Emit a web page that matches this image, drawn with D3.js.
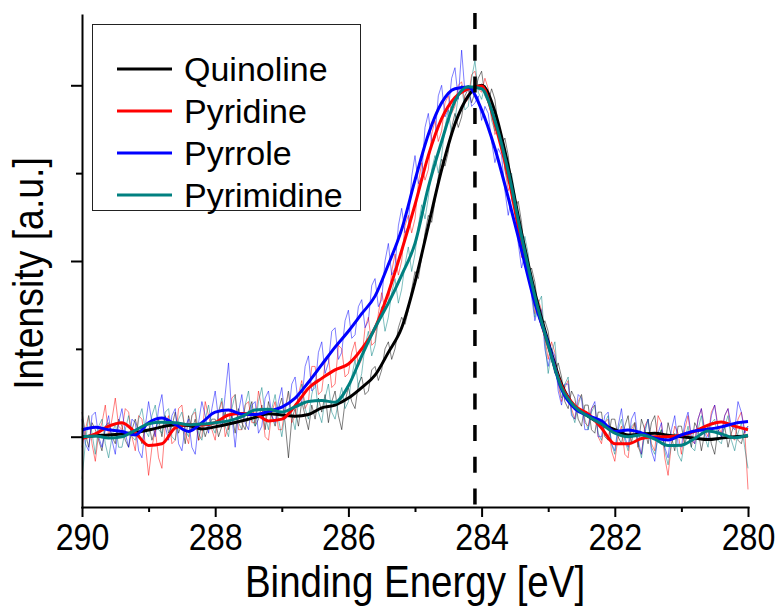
<!DOCTYPE html>
<html>
<head>
<meta charset="utf-8">
<script src="https://cdn.jsdelivr.net/npm/d3@7"></script>
<style>
  body { margin: 0; background: #fff; }
  svg { display: block; }
  text { font-family: "Liberation Sans", Arial, sans-serif; fill: #000; }
</style>
</head>
<body>
<svg id="chart" width="780" height="608"></svg>
<script>
// ---------- DATA ----------
const seriesNames = ["Quinoline", "Pyridine", "Pyrrole", "Pyrimidine"];
const seriesColors = ["#000000", "#ff0000", "#0000ff", "#008080"];

const xTickValues = [290, 288, 286, 284, 282, 280];
const xMinorTicks = [289, 287, 285, 283, 281];
const yMajorTicks = [0, 0.5, 1.0];
const yMinorTicks = [0.25, 0.75];
const referenceLine = 284.1;

// smoothed curves, 0.2 eV grid
const energySmooth = [290.0,289.8,289.6,289.4,289.2,289.0,288.8,288.6,288.4,288.2,
  288.0,287.8,287.6,287.4,287.2,287.0,286.8,286.6,286.4,286.2,
  286.0,285.8,285.6,285.4,285.2,285.0,284.8,284.6,284.4,284.2,
  284.0,283.8,283.6,283.4,283.2,283.0,282.8,282.6,282.4,282.2,
  282.0,281.8,281.6,281.4,281.2,281.0,280.8,280.6,280.4,280.2,280.0];

const quinolineSmooth = [0.0,0.003,0.005,0.008,0.012,0.019,0.028,0.033,0.032,0.022,
  0.028,0.036,0.045,0.055,0.065,0.062,0.058,0.063,0.082,0.09,
  0.11,0.14,0.175,0.24,0.31,0.44,0.60,0.76,0.89,0.97,
  1.0,0.925,0.77,0.58,0.41,0.27,0.15,0.085,0.058,0.035,
  0.02,0.005,0.008,0.01,0.004,0.0,-0.004,-0.008,-0.004,0.0,0.002];

const pyridineSmooth = [-0.005,0.008,0.03,0.04,0.012,-0.025,-0.02,0.025,0.035,0.033,
  0.04,0.062,0.066,0.064,0.045,0.05,0.088,0.138,0.166,0.19,
  0.207,0.25,0.31,0.41,0.53,0.66,0.80,0.905,0.965,0.99,
  0.998,0.89,0.74,0.55,0.39,0.26,0.145,0.088,0.065,0.025,
  -0.02,-0.02,-0.005,0.0,0.0,0.004,0.015,0.033,0.042,0.03,0.02];

const pyrroleSmooth = [0.019,0.027,0.02,0.015,0.005,0.04,0.053,0.035,0.015,0.04,
  0.07,0.076,0.064,0.063,0.072,0.084,0.11,0.155,0.205,0.255,
  0.30,0.35,0.40,0.49,0.59,0.73,0.86,0.95,0.99,0.995,
  0.93,0.82,0.68,0.53,0.38,0.265,0.135,0.08,0.06,0.045,
  0.015,0.019,0.011,-0.004,-0.009,0.005,0.016,0.021,0.028,0.038,0.043];

const pyrimidineSmooth = [0.0,0.002,-0.004,0.0,0.018,0.037,0.041,0.04,0.034,0.036,
  0.04,0.045,0.057,0.076,0.078,0.07,0.085,0.1,0.103,0.098,
  0.145,0.23,0.31,0.38,0.46,0.55,0.71,0.84,0.955,0.996,
  0.99,0.90,0.755,0.57,0.40,0.26,0.14,0.085,0.058,0.036,
  0.01,0.0,0.005,-0.007,-0.025,-0.024,-0.005,0.016,0.008,-0.003,0.004];

// raw (noisy) spectra, 0.05 eV grid (one row = 1 eV)
const energyRaw = [
  290.00,289.95,289.90,289.85,289.80,289.75,289.70,289.65,289.60,289.55,289.50,289.45,289.40,289.35,289.30,289.25,289.20,289.15,289.10,289.05,
  289.00,288.95,288.90,288.85,288.80,288.75,288.70,288.65,288.60,288.55,288.50,288.45,288.40,288.35,288.30,288.25,288.20,288.15,288.10,288.05,
  288.00,287.95,287.90,287.85,287.80,287.75,287.70,287.65,287.60,287.55,287.50,287.45,287.40,287.35,287.30,287.25,287.20,287.15,287.10,287.05,
  287.00,286.95,286.90,286.85,286.80,286.75,286.70,286.65,286.60,286.55,286.50,286.45,286.40,286.35,286.30,286.25,286.20,286.15,286.10,286.05,
  286.00,285.95,285.90,285.85,285.80,285.75,285.70,285.65,285.60,285.55,285.50,285.45,285.40,285.35,285.30,285.25,285.20,285.15,285.10,285.05,
  285.00,284.95,284.90,284.85,284.80,284.75,284.70,284.65,284.60,284.55,284.50,284.45,284.40,284.35,284.30,284.25,284.20,284.15,284.10,284.05,
  284.00,283.95,283.90,283.85,283.80,283.75,283.70,283.65,283.60,283.55,283.50,283.45,283.40,283.35,283.30,283.25,283.20,283.15,283.10,283.05,
  283.00,282.95,282.90,282.85,282.80,282.75,282.70,282.65,282.60,282.55,282.50,282.45,282.40,282.35,282.30,282.25,282.20,282.15,282.10,282.05,
  282.00,281.95,281.90,281.85,281.80,281.75,281.70,281.65,281.60,281.55,281.50,281.45,281.40,281.35,281.30,281.25,281.20,281.15,281.10,281.05,
  281.00,280.95,280.90,280.85,280.80,280.75,280.70,280.65,280.60,280.55,280.50,280.45,280.40,280.35,280.30,280.25,280.20,280.15,280.10,280.05,
  280.00];

const quinolineRaw = [
  0.07,0.01,-0.03,0.04,0.02,-0.01,-0.04,0.03,0.04,0.0,-0.02,0.05,0.03,-0.01,-0.03,0.02,0.05,0.01,-0.02,0.03,
  0.04,-0.01,0.02,0.05,0.0,0.06,0.01,0.03,0.07,0.01,0.04,-0.02,0.06,0.02,0.05,-0.01,0.04,0.0,0.03,0.05,
  0.05,0.0,0.03,0.07,0.02,0.06,0.01,0.08,0.04,0.02,0.07,0.1,0.03,0.05,0.09,0.02,0.1,0.06,0.03,0.08,
  0.11,0.04,-0.06,0.05,0.08,0.03,0.1,0.06,0.02,0.09,0.05,0.11,0.07,0.12,0.04,0.1,0.13,0.06,0.02,0.1,
  0.14,0.1,0.08,0.15,0.17,0.12,0.13,0.19,0.2,0.16,0.19,0.25,0.27,0.22,0.25,0.31,0.34,0.32,0.36,0.42,
  0.47,0.45,0.51,0.58,0.63,0.61,0.67,0.74,0.79,0.77,0.81,0.88,0.92,0.88,0.91,0.97,0.99,0.95,0.98,1.02,
  1.04,0.97,0.95,0.99,0.96,0.88,0.83,0.85,0.8,0.71,0.65,0.67,0.61,0.51,0.46,0.48,0.44,0.36,0.31,0.33,
  0.3,0.22,0.18,0.21,0.17,0.1,0.08,0.13,0.11,0.05,0.03,0.09,0.09,0.02,0.01,0.07,0.07,0.0,-0.01,0.05,
  0.05,0.0,-0.02,0.03,0.06,-0.02,0.04,-0.03,0.05,0.02,-0.02,0.04,0.06,-0.01,0.02,-0.03,0.04,0.0,-0.04,0.03,
  0.03,-0.02,0.01,-0.03,0.04,0.02,-0.04,0.01,0.03,-0.02,-0.05,0.02,0.0,0.03,-0.03,0.01,0.04,-0.01,-0.02,0.02,
  0.03];

const pyridineRaw = [
  -0.03,0.02,0.06,-0.02,-0.07,0.01,0.04,0.09,0.0,0.05,0.11,0.03,0.02,0.08,0.07,0.0,-0.04,0.06,0.05,-0.02,
  -0.11,-0.03,0.02,-0.06,-0.09,0.03,0.06,-0.02,-0.01,0.08,0.09,0.01,-0.02,0.06,0.07,-0.01,0.0,0.1,0.06,0.02,
  -0.01,0.07,0.1,0.0,0.03,0.11,0.12,0.02,0.02,0.09,0.1,0.04,0.04,0.13,0.08,0.0,-0.01,0.07,0.1,0.02,
  0.02,0.08,0.13,0.04,0.06,0.12,0.16,0.08,0.1,0.2,0.2,0.12,0.13,0.21,0.23,0.14,0.15,0.26,0.25,0.17,
  0.18,0.24,0.27,0.2,0.22,0.31,0.34,0.26,0.27,0.35,0.41,0.36,0.38,0.47,0.52,0.46,0.5,0.6,0.63,0.58,
  0.62,0.72,0.78,0.73,0.76,0.86,0.9,0.84,0.87,0.95,0.97,0.92,0.94,1.0,1.01,0.95,0.96,1.03,1.04,0.99,
  0.98,1.02,0.99,0.93,0.86,0.88,0.85,0.76,0.7,0.73,0.68,0.58,0.51,0.55,0.5,0.42,0.35,0.39,0.36,0.28,
  0.22,0.27,0.24,0.15,0.1,0.14,0.16,0.08,0.05,0.1,0.12,0.04,0.03,0.08,0.09,0.0,-0.02,0.04,0.05,-0.04,
  -0.07,0.0,0.03,-0.05,-0.06,0.02,0.04,-0.03,-0.05,0.03,0.05,-0.02,-0.04,0.06,0.04,-0.06,-0.11,-0.02,0.03,0.01,
  -0.05,0.02,0.06,-0.01,-0.02,0.05,0.08,0.02,0.0,0.07,0.09,0.03,0.01,0.06,0.08,0.0,-0.01,0.05,0.07,0.02,
  -0.15];

const pyrroleRaw = [
  0.05,-0.02,-0.04,0.06,0.07,0.0,-0.03,0.02,0.06,-0.01,-0.05,0.04,0.08,0.01,-0.03,0.05,0.04,-0.04,-0.06,0.03,
  0.1,0.04,0.0,0.08,0.12,0.03,-0.01,0.06,0.08,-0.02,-0.04,0.03,0.05,-0.03,-0.05,0.04,0.1,0.06,0.01,0.08,
  0.13,0.05,0.03,0.12,0.21,0.06,-0.03,0.07,0.12,0.04,0.02,0.09,0.1,0.01,0.03,0.11,0.13,0.06,0.04,0.1,
  0.14,0.05,0.06,0.15,0.17,0.09,0.1,0.2,0.23,0.13,0.14,0.24,0.27,0.18,0.21,0.3,0.31,0.22,0.24,0.33,
  0.36,0.28,0.29,0.37,0.39,0.31,0.33,0.43,0.45,0.37,0.39,0.5,0.55,0.46,0.48,0.6,0.65,0.58,0.6,0.74,
  0.8,0.72,0.74,0.88,0.92,0.84,0.85,0.97,1.0,0.91,0.93,1.02,1.05,0.96,1.1,0.98,1.0,0.94,0.95,0.97,
  0.9,0.94,0.92,0.84,0.78,0.82,0.8,0.7,0.63,0.68,0.66,0.55,0.48,0.52,0.5,0.4,0.33,0.37,0.36,0.25,
  0.2,0.25,0.23,0.13,0.09,0.15,0.15,0.06,0.05,0.12,0.11,0.02,0.02,0.08,0.1,0.0,0.0,0.06,0.07,-0.02,
  -0.04,0.03,0.08,0.0,-0.03,0.05,0.07,-0.01,-0.05,0.02,0.05,-0.04,-0.07,0.01,0.04,-0.03,-0.06,0.02,0.06,-0.02,
  -0.03,0.04,0.07,0.0,-0.02,0.05,0.08,0.01,-0.01,0.06,0.09,0.02,0.0,0.06,0.08,0.03,0.02,0.1,0.07,0.01,
  0.03];

const pyrimidineRaw = [
  -0.12,-0.02,0.06,0.01,-0.05,0.03,0.05,-0.02,-0.06,0.0,0.04,-0.03,-0.03,0.02,0.06,0.0,-0.01,0.05,0.08,0.02,
  0.0,0.06,0.09,0.02,0.01,0.07,0.08,0.0,-0.01,0.05,0.07,0.02,0.0,0.06,0.08,0.01,-0.01,0.05,0.09,0.03,
  0.01,0.07,0.11,0.03,0.0,0.08,0.12,0.04,0.02,0.09,0.13,0.05,0.03,0.1,0.14,0.06,0.02,0.08,0.12,0.05,
  0.0,0.07,0.13,0.06,0.02,0.1,0.15,0.08,0.05,0.12,0.16,0.07,0.04,0.11,0.15,0.07,0.05,0.1,0.14,0.08,
  0.1,0.17,0.22,0.14,0.18,0.26,0.3,0.23,0.26,0.33,0.37,0.3,0.34,0.41,0.45,0.38,0.42,0.49,0.54,0.47,
  0.52,0.6,0.66,0.62,0.68,0.76,0.8,0.75,0.8,0.88,0.93,0.86,0.9,0.97,1.0,0.93,0.94,1.02,1.07,0.98,
  0.96,1.0,0.98,0.9,0.87,0.89,0.86,0.76,0.72,0.75,0.69,0.6,0.53,0.57,0.52,0.42,0.34,0.38,0.4,0.27,
  0.18,0.24,0.27,0.16,0.11,0.15,0.17,0.07,0.04,0.09,0.12,0.05,0.02,0.07,0.09,0.01,-0.01,0.04,0.06,-0.02,
  -0.05,0.02,0.05,-0.01,-0.04,0.03,0.04,-0.02,-0.06,0.01,0.05,-0.03,-0.05,0.0,0.02,-0.04,-0.08,-0.02,0.01,-0.05,
  -0.07,-0.01,0.03,-0.03,-0.04,0.02,0.06,0.0,-0.03,0.04,0.05,-0.01,-0.02,0.03,0.06,-0.01,-0.04,0.01,0.04,-0.03,
  -0.09];

const smoothSeries = [quinolineSmooth, pyridineSmooth, pyrroleSmooth, pyrimidineSmooth];
const rawSeries = [quinolineRaw, pyridineRaw, pyrroleRaw, pyrimidineRaw];

// ---------- CHART ----------
const svg = d3.select("#chart");
const plotLeft = 82, plotRight = 748, plotTop = 15, plotBottom = 507;

const x = d3.scaleLinear().domain([290, 280]).range([plotLeft, plotRight]);
const y = d3.scaleLinear().domain([-0.2, 1.2]).range([plotBottom, plotTop]);

// raw lines
const rawLine = d3.line().x(d => x(d[0])).y(d => y(d[1]));
rawSeries.forEach((s, i) => {
  svg.append("path")
    .datum(energyRaw.map((e, j) => [e, s[j]]))
    .attr("d", rawLine)
    .attr("fill", "none")
    .attr("stroke", seriesColors[i])
    .attr("stroke-opacity", 0.5)
    .attr("stroke-width", 1);
});

// smoothed lines
const smoothLine = d3.line().x(d => x(d[0])).y(d => y(d[1])).curve(d3.curveMonotoneX);
smoothSeries.forEach((s, i) => {
  svg.append("path")
    .datum(energySmooth.map((e, j) => [e, s[j]]))
    .attr("d", smoothLine)
    .attr("fill", "none")
    .attr("stroke", seriesColors[i])
    .attr("stroke-width", 3)
    .attr("stroke-linejoin", "round");
});

// reference dashed line
svg.append("line")
  .attr("x1", x(referenceLine)).attr("x2", x(referenceLine))
  .attr("y1", 13).attr("y2", plotBottom)
  .attr("stroke", "#000").attr("stroke-width", 3.5)
  .attr("stroke-dasharray", "16,15.7");

// axes
const xAxis = svg.append("g").attr("transform", `translate(0,${plotBottom})`)
  .call(d3.axisBottom(x).tickValues(xTickValues).tickSize(10).tickSizeOuter(0).tickFormat(d3.format("d")));
svg.append("g").attr("transform", `translate(0,${plotBottom})`)
  .call(d3.axisBottom(x).tickValues(xMinorTicks).tickSize(5).tickSizeOuter(0).tickFormat(""))
  .select(".domain").remove();
svg.append("g").attr("transform", `translate(${plotLeft},0)`)
  .call(d3.axisLeft(y).tickValues(yMajorTicks).tickSize(11).tickSizeOuter(0).tickFormat(""));
svg.append("g").attr("transform", `translate(${plotLeft},0)`)
  .call(d3.axisLeft(y).tickValues(yMinorTicks).tickSize(6).tickSizeOuter(0).tickFormat(""))
  .select(".domain").remove();

svg.selectAll(".domain, .tick line").attr("stroke", "#000").attr("stroke-width", 2);
svg.selectAll(".domain").attr("stroke-linecap", "square");

// tick labels: narrow, tall digits (horizontal squeeze)
xAxis.selectAll(".tick text")
  .attr("y", 43).attr("dy", null)
  .attr("font-size", 37)
  .attr("font-family", "Liberation Sans, Arial, sans-serif")
  .attr("fill", "#000")
  .attr("transform", "scale(0.87,1)");

// axis titles
svg.append("text")
  .attr("transform", `translate(${(plotLeft + plotRight) / 2},597) scale(0.875,1)`)
  .attr("text-anchor", "middle")
  .attr("font-size", 44)
  .text("Binding Energy [eV]");

svg.append("text")
  .attr("transform", "translate(43,273.5) rotate(-90) scale(0.89,1)")
  .attr("text-anchor", "middle")
  .attr("font-size", 42)
  .text("Intensity [a.u.]");

// legend
const legend = svg.append("g");
legend.append("rect")
  .attr("x", 92.5).attr("y", 24.5).attr("width", 268).attr("height", 186)
  .attr("fill", "#fff").attr("stroke", "#222").attr("stroke-width", 1);
seriesNames.forEach((n, i) => {
  const ly = 69 + i * 42;
  legend.append("line")
    .attr("x1", 117).attr("x2", 172).attr("y1", ly).attr("y2", ly)
    .attr("stroke", seriesColors[i]).attr("stroke-width", 3);
  legend.append("text")
    .attr("x", 184).attr("y", ly + 11.5)
    .attr("font-size", 34)
    .text(n);
});
</script>
</body>
</html>
